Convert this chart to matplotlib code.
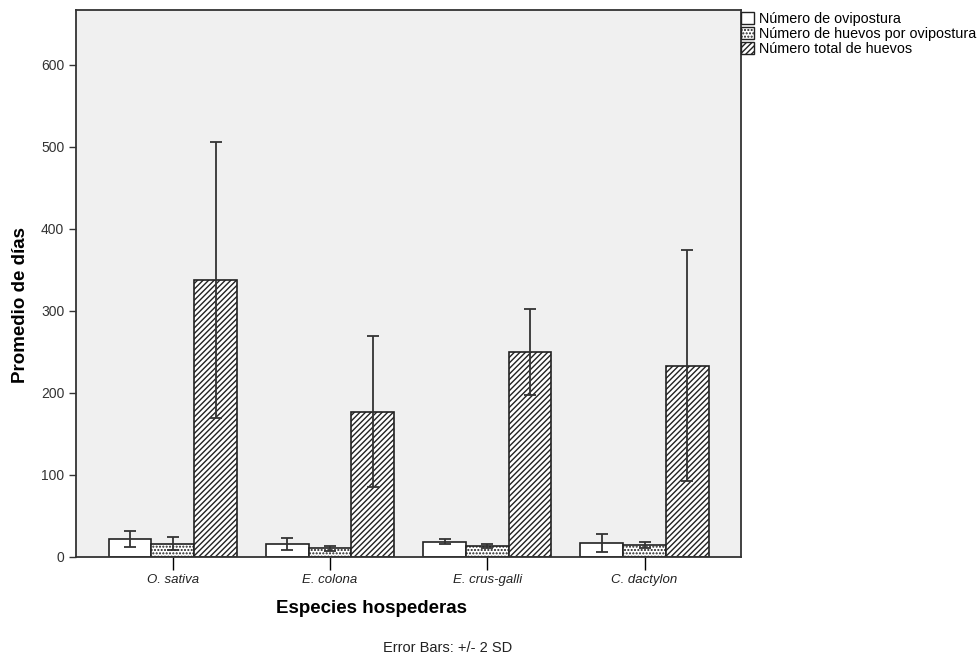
import matplotlib
matplotlib.use("Agg")
import matplotlib.pyplot as plt
import numpy as np
from matplotlib.patches import Patch

plt.rcParams['font.family'] = ['Liberation Sans', 'DejaVu Sans']
plt.rcParams['hatch.linewidth'] = 1.0

categories = ["O. sativa", "E. colona", "E. crus-galli", "C. dactylon"]
series_names = ["Número de ovipostura", "Número de huevos por ovipostura", "Número total de huevos"]
ovipostura = [22, 16, 18.5, 16.5]
ovipostura_err = [10, 7.5, 3, 11]
huevos_por = [16, 10.5, 13, 14.5]
huevos_por_err = [8, 3.5, 2.5, 3.5]
total = [338, 177, 250, 233.5]
total_err = [168, 92, 52.5, 140.5]

means = [ovipostura, huevos_por, total]
errs = [ovipostura_err, huevos_por_err, total_err]
hatches = ['', '.....', '//////']

fig = plt.figure(figsize=(9.79, 6.55), dpi=100)
ax = fig.add_axes([76/979, 98/655, (741-76)/979, (557-10)/655])
ax.set_facecolor('#f0f0f0')

x = np.arange(len(categories))
w = 0.272
for i in range(3):
    pos = x + (i - 1) * w
    ax.bar(pos, means[i], width=w, color='white', edgecolor='#222222',
           linewidth=1.2, hatch=hatches[i], zorder=2)
    ax.errorbar(pos, means[i], yerr=errs[i], fmt='none', ecolor='#333333',
                elinewidth=1.3, capsize=4.5, capthick=1.3, zorder=3)

ax.set_xlim(-0.615, 3.613)
ax.set_ylim(0, 667)
ax.set_yticks([0, 100, 200, 300, 400, 500, 600])
ax.set_xticks(x)
ax.set_xticklabels(categories, fontstyle='italic', fontsize=9.5, color='#222222')
ax.tick_params(axis='y', direction='out', length=5, width=1, labelsize=10, colors='#333333')
ax.tick_params(axis='x', direction='out', length=9, width=1, pad=3)
for s in ax.spines.values():
    s.set_linewidth(1.3)
    s.set_color('#333333')

ax.set_xlabel("Especies hospederas", fontsize=13.5, fontweight='bold')
ax.xaxis.set_label_coords(0.445, -0.079)
ax.set_ylabel("Promedio de días", fontsize=13.5, fontweight='bold')
ax.yaxis.set_label_coords(-0.071, 0.46)

handles = [Patch(facecolor='white', edgecolor='#222222', hatch=h, linewidth=1.0) for h in hatches]
fig.legend(handles, series_names, loc='upper left', bbox_to_anchor=(741/979, 1 - 12/655),
           frameon=False, fontsize=10.4, handlelength=0.9, handleheight=0.9,
           handletextpad=0.35, labelspacing=0.08, borderaxespad=0, borderpad=0)

fig.text(448/979, 1 - 648/655, "Error Bars: +/- 2 SD", ha='center', va='center', fontsize=10.5, color='#222222')

fig.savefig("out.png", dpi=100)
